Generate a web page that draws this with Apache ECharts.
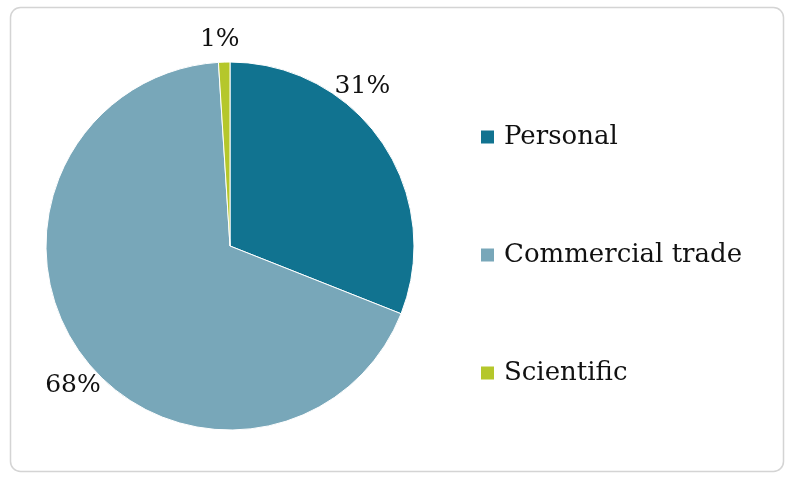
<!DOCTYPE html>
<html>
<head>
<meta charset="utf-8">
<script src="https://cdn.jsdelivr.net/npm/echarts@6/dist/echarts.min.js"></script>
<style>
  html, body { margin: 0; padding: 0; background: #fff; }
  #chart { width: 790px; height: 477px; }
</style>
</head>
<body>
<div id="chart"></div>
<script>
// Purpose shares (percent)
const categories = ['Personal', 'Commercial trade', 'Scientific'];
const shares = [31, 68, 1];
const sliceColors = ['#117390', '#78a7b9', '#b5c72b'];

const PIE_CX = 230, PIE_CY = 246, PIE_R = 184;
// Labels sit just outside the rim; the small slice-angle nudges keep them off the legend side.
const LABEL_R = 209;
const labelAngleNudge = [-16.5, -5.3, -1];

const total = shares.reduce((a, b) => a + b, 0);
function midAngle(i) {
  let before = 0;
  for (let k = 0; k < i; k++) before += shares[k];
  return (before + shares[i] / 2) / total * 360; // clockwise from 12 o'clock
}

const chart = echarts.init(document.getElementById('chart'), null, { renderer: 'canvas' });

const serif = '"DejaVu Serif", "Liberation Serif", serif';

chart.setOption({
  animation: false,
  backgroundColor: '#ffffff',
  color: sliceColors,
  graphic: [{
    type: 'rect',
    shape: { x: 10.5, y: 7.5, width: 773, height: 464, r: 10 },
    style: { fill: 'none', stroke: '#d4d4d4', lineWidth: 1.5 },
    silent: true,
    z: -10
  }],
  legend: {
    orient: 'vertical',
    left: 479,
    top: 124,
    padding: 0,
    itemWidth: 15,
    itemHeight: 15,
    itemGap: 92,
    icon: 'rect',
    data: categories,
    textStyle: { fontFamily: serif, fontSize: 26, color: '#111', padding: [0, 0, 0, 4] }
  },
  series: [{
    type: 'pie',
    center: [PIE_CX, PIE_CY],
    radius: PIE_R,
    startAngle: 90,
    clockwise: true,
    avoidLabelOverlap: false,
    itemStyle: { borderColor: '#ffffff', borderWidth: 1 },
    label: {
      show: true,
      position: 'outside',
      formatter: '{d}%',
      fontFamily: serif,
      fontSize: 25,
      color: '#111'
    },
    labelLine: { show: false, length: 8, length2: 0 },
    labelLayout: function (p) {
      const a = (midAngle(p.dataIndex) + labelAngleNudge[p.dataIndex]) * Math.PI / 180;
      return {
        x: PIE_CX + LABEL_R * Math.sin(a),
        y: PIE_CY - LABEL_R * Math.cos(a) + 2,
        align: 'center',
        verticalAlign: 'middle'
      };
    },
    data: categories.map((name, i) => ({ name, value: shares[i] }))
  }]
});
</script>
</body>
</html>
